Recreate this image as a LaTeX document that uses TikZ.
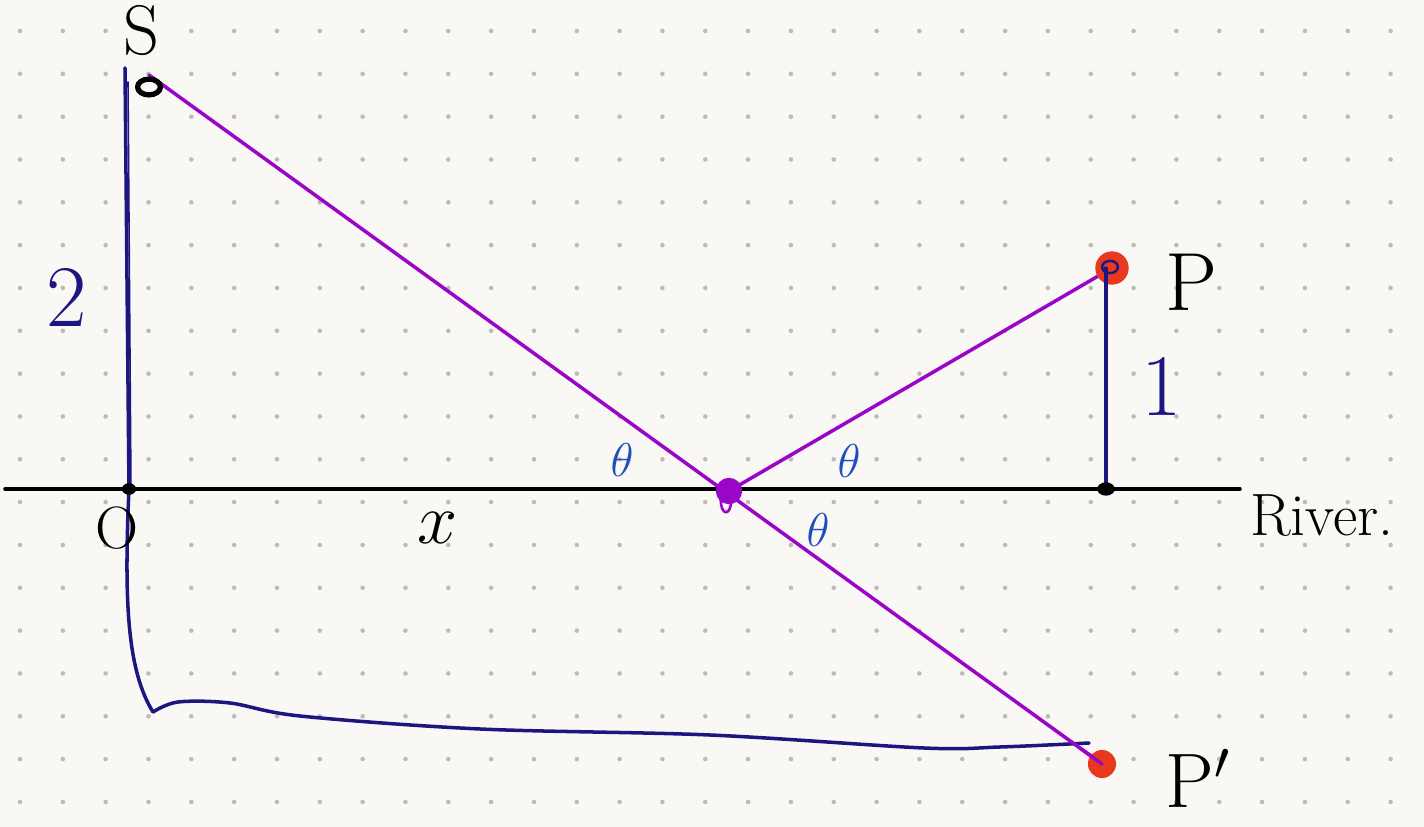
\RequirePackage{fix-cm}
\documentclass[tikz,border=0pt]{standalone}
\usepackage{amsmath,amssymb}
\usepackage{xcolor}
\usepackage{tikz}
\usetikzlibrary{calc}

\definecolor{paper}{HTML}{FAF8F4}
\definecolor{dotgray}{HTML}{BDBBB7}
\definecolor{navy}{HTML}{1B1680}
\definecolor{rayv}{HTML}{9A06C8}
\definecolor{dotred}{HTML}{E8391F}
\definecolor{angb}{HTML}{1F4DBE}

\begin{document}
\begin{tikzpicture}[x=0.02cm,y=-0.02cm,line cap=round,line join=round,
  pen/.style={line width=2pt},
  hand/.style={inner sep=0pt,font=\fontsize{#1}{#1}\selectfont}]
  \useasboundingbox (0,0) rectangle (1424,827);
  \fill[paper] (0,0) rectangle (1424,827);
  \foreach \i in {0,...,32}
    \foreach \j in {0,...,18}
      \fill[dotgray] (20+42.83*\i,31+42.83*\j) circle (1.3pt);
  \coordinate (ST) at (125,68);
  \coordinate (S0) at (149,75);
  \coordinate (S) at (149,87);
  \coordinate (O) at (129,489);
  \coordinate (X) at (729,491);
  \coordinate (F) at (1106,489);
  \coordinate (P) at (1106,268);
  \coordinate (PR) at (1112,268);
  \coordinate (Q) at (1102,764);
  \coordinate (W0) at (5,489);
  \coordinate (W1) at (1240,489);
  \coordinate (K) at (153,712);
  \coordinate (E) at (1089,743);
  % river and the walk
  \draw[pen,black] (W0) -- (W1);
  \draw[pen,navy] (ST) -- (O);
  \draw[line width=0.9pt,navy] (128,82) -- (131,489);
  \draw[pen,navy] (O) .. controls (124,600) and (127,670) .. (K);
  \draw[pen,navy] plot[smooth,tension=0.55] coordinates {(K) (178,702) (230,703) (300,716) (480,729) (710,735) (924,748) (1000,747) (E)};
  % light path
  \draw[pen,rayv] (S0) -- (Q);
  \draw[pen,rayv] (X) -- (PR);
  % points
  \fill[dotred] (PR) circle (9.5pt);
  \draw[navy,line width=1.4pt] (1110,267) ellipse (4.5pt and 3.5pt);
  \draw[pen,navy] (F) -- (P);
  \draw[black,line width=3pt] (S) ellipse (6.5pt and 4.5pt);
  \fill[black] (O) ellipse (4pt and 3.3pt);
  \fill[black] (F) ellipse (5pt and 3.8pt);
  \fill[rayv] (X) circle (7.5pt);
  \draw[rayv,line width=1.5pt] (726,500) ellipse (3pt and 7pt);
  \fill[dotred] (Q) circle (8pt);
  \draw[pen,rayv] (1080,748) -- (Q);
  % labels
  \node[hand=40] (LS) at (141,31) {S};
  \node[hand=50,navy] (L2) at (67,297) {2};
  \node[hand=50,navy] (L1) at (1162,386) {1};
  \node[hand=47] (LP) at (1191,282) {P};
  \node[hand=44] (LQ) at (1198,778) {P$'$};
  \node[hand=34] (LR) at (1322,516) {River.};
  \node[hand=34] (LO) at (117,528) {O};
  \node[hand=41] (LX) at (438,528) {$x$};
  \node[hand=27,angb] (T1) at (622,460) {$\theta$};
  \node[hand=27,angb] (T2) at (849,461) {$\theta$};
  \node[hand=27,angb] (T3) at (818,530) {$\theta$};
\end{tikzpicture}
\end{document}
